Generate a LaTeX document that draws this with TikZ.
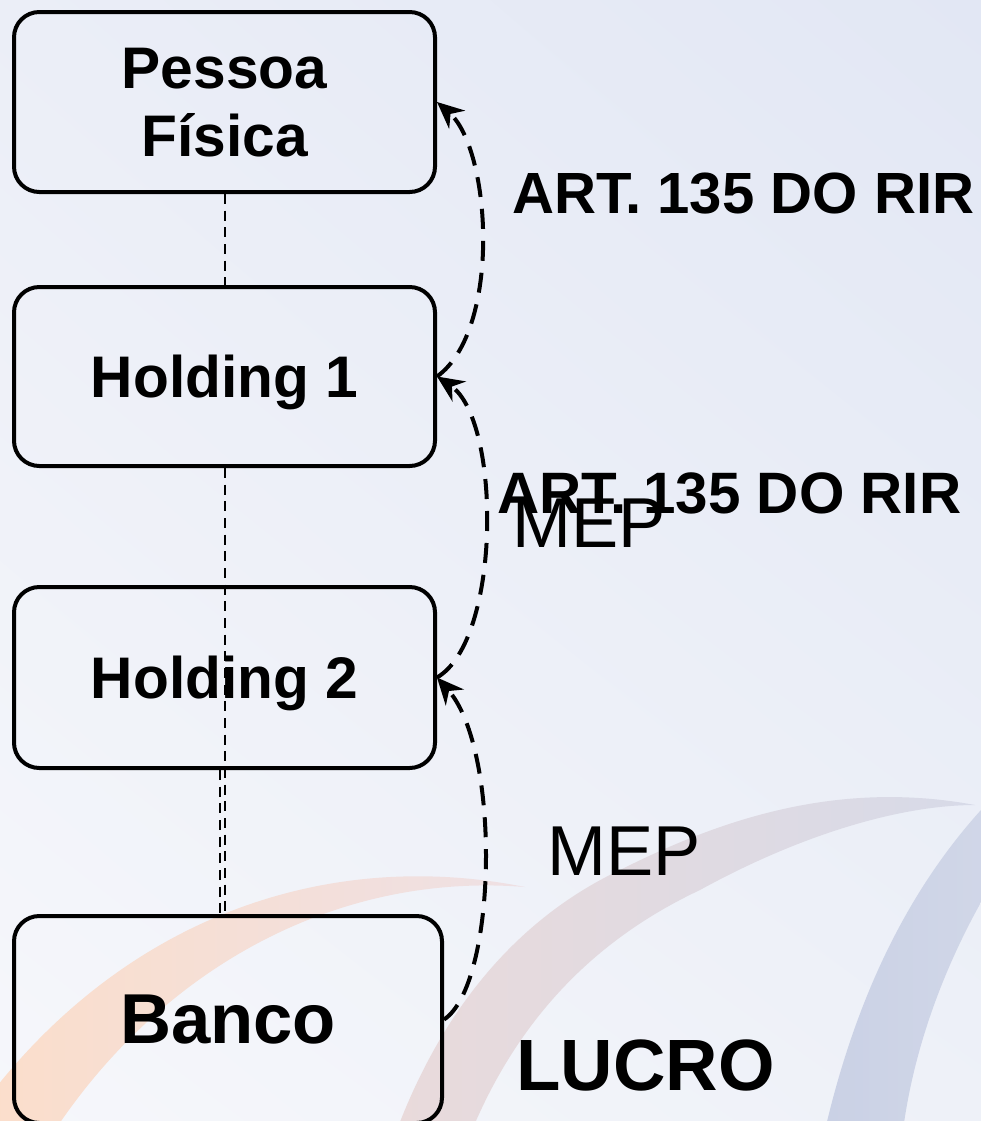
\documentclass[tikz,border=0pt]{standalone}
\usepackage{fontspec}
\setmainfont{Liberation Sans}
\usetikzlibrary{arrows.meta,shadings}
\definecolor{bgUL}{HTML}{EBEEF7}
\definecolor{bgUR}{HTML}{E2E7F4}
\definecolor{bgLL}{HTML}{F6F7FB}
\definecolor{bgLR}{HTML}{EEF1F8}
\definecolor{peachA}{HTML}{FBDECB}
\definecolor{peachB}{HTML}{EEE0E4}
\definecolor{mauveA}{HTML}{E9DADB}
\definecolor{mauveB}{HTML}{D7DAE8}
\definecolor{blueA}{HTML}{CAD1E5}
\definecolor{blueB}{HTML}{D1D7E8}
\begin{document}
\begin{tikzpicture}[x=0.75pt,y=-0.75pt,
  box/.style={draw=black,line width=3pt,rounded corners=19pt,inner sep=0pt,align=center,
    text depth=0pt,font=\bfseries\fontsize{44}{51}\selectfont},
  vline/.style={line width=1.5pt,dash pattern=on 7.5pt off 5pt},
  arr/.style={line width=3pt,dash pattern=on 15pt off 9pt,-{Stealth[length=20pt,width=18pt]}},
  lbl/.style={inner sep=0pt,anchor=base west}]
\useasboundingbox (0,0) rectangle (981,1121);
\begin{scope}
\clip (0,0) rectangle (981,1121);
\shade[upper left=bgUL,upper right=bgUR,lower left=bgLL,lower right=bgLR] (0,0) rectangle (981,1121);
% peach swoosh
\shade[left color=peachA,right color=peachB]
  (-10,1095) .. controls (130,915) and (330,848) .. (525,887)
  .. controls (340,872) and (165,965) .. (55,1130) -- (-10,1130) -- cycle;
% mauve swoosh
\shade[left color=mauveA,right color=mauveB]
  (395,1135) .. controls (445,1000) and (525,915) .. (620,870)
  .. controls (710,825) and (830,778) .. (975,805)
  .. controls (900,805) and (800,835) .. (700,890)
  .. controls (615,930) and (525,1000) .. (470,1135) -- cycle;
% blue swoosh
\shade[left color=blueA,right color=blueB]
  (825,1130) .. controls (860,980) and (920,870) .. (1000,790)
  -- (1000,870) .. controls (950,950) and (915,1040) .. (903,1130) -- cycle;
\end{scope}

\node[box,minimum width=315.75pt,minimum height=135pt] (pessoa) at (224.5,102) {Pessoa\\Física};
\node[box,minimum width=315.75pt,minimum height=134.25pt] (holding1) at (224.5,376.5) {Holding 1};
\node[box,minimum width=315.75pt,minimum height=135.75pt] (holding2) at (224.5,677.5) {Holding 2};
\node[box,minimum width=321pt,minimum height=155.25pt,font=\bfseries\fontsize{53}{60}\selectfont] (banco) at (228,1019.5) {Banco};

\draw[vline] (pessoa.south) -- (holding1.north);
\draw[vline] (holding1.south) -- (holding1.south |- banco.north);
\draw[vline] ([xshift=-3.75pt]holding2.south) -- ([xshift=-3.75pt]holding2.south |- banco.north);

\draw[arr] (banco.east) .. controls +(53,-35) and +(64.5,72.5) .. (holding2.east);
\draw[arr] (holding2.east) .. controls +(64.5,-37.5) and +(64.5,43.5) .. (holding1.east);
\draw[arr] (holding1.east) .. controls +(64.5,-46.5) and +(54.5,48) .. (pessoa.east);

\node[lbl,font=\bfseries\fontsize{43.6}{43.6}\selectfont] (art1) at (512,213) {ART. 135 DO RIR};
\node[lbl,font=\bfseries\fontsize{43.8}{43.8}\selectfont] (art2) at (497,513) {ART. 135 DO RIR};
\node[lbl,font=\fontsize{53}{53}\selectfont] (mep1) at (512,547) {MEP};
\node[lbl,font=\fontsize{53}{53}\selectfont] (mep2) at (547,875) {MEP};
\node[lbl,font=\bfseries\fontsize{54.5}{54.5}\selectfont] (lucro) at (516,1090) {LUCRO};
\end{tikzpicture}
\end{document}
